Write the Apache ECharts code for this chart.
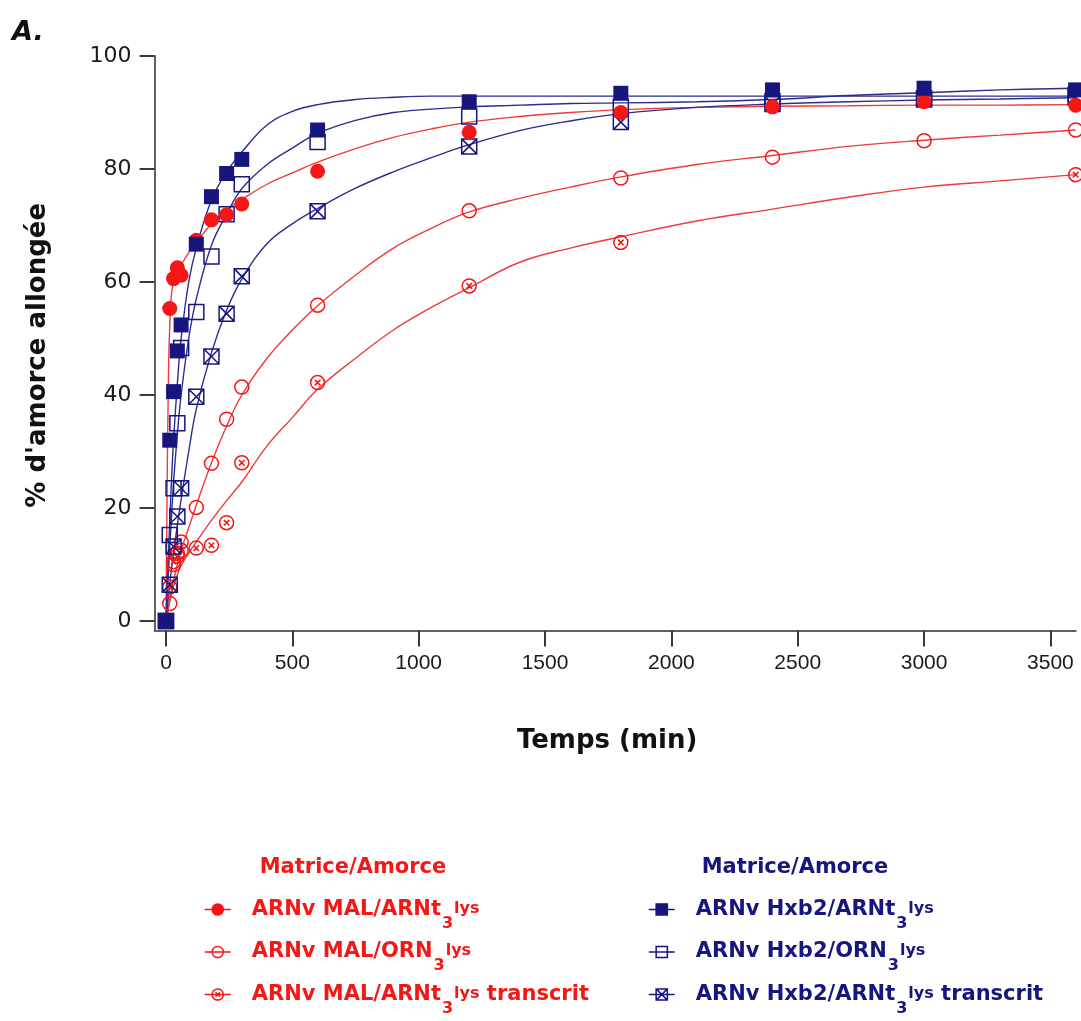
<!DOCTYPE html>
<html>
<head>
<meta charset="utf-8">
<script src="https://cdn.jsdelivr.net/npm/echarts@6/dist/echarts.min.js"></script>
<style>
  html, body { margin: 0; padding: 0; background: #ffffff; }
  #chart { width: 1081px; height: 1021px; }
</style>
</head>
<body>
<div id="chart"></div>
<script>
// Sampling times of the extension kinetics (min)
const times = [0, 15, 30, 45, 60, 120, 180, 240, 300, 600, 1200, 1800, 2400, 3000, 3600];

// Measured % of extended primer, MAL template
const malTrna      = [0, 55.3, 60.6, 62.5, 61.2, 67.4, 71.0, 71.9, 73.8, 79.6, 86.5, 90.0, 91.0, 91.9, 91.3];
const malOdn       = [0, 3.1, 10.0, 12.0, 14.0, 20.1, 27.9, 35.7, 41.4, 55.9, 72.6, 78.4, 82.1, 85.0, 86.9];
const malTranscrit = [0, 6.0, 10.5, 11.5, 12.5, 12.9, 13.4, 17.4, 28.0, 42.2, 59.3, 67.0, null, null, 79.0];

// Measured % of extended primer, Hxb2 template
const hxbTrna      = [0, 32.0, 40.6, 47.8, 52.4, 66.7, 75.1, 79.2, 81.7, 86.9, 91.9, 93.4, 94.0, 94.3, 94.0];
const hxbOdn       = [0, 15.2, 23.5, 35.0, 48.3, 54.7, 64.5, 72.0, 77.3, 84.8, 89.3, 91.0, 92.0, 92.5, 93.2];
const hxbTranscrit = [0, 6.4, 13.2, 18.5, 23.5, 39.7, 46.8, 54.4, 61.0, 72.5, 84.0, 88.3, 91.5, 92.3, 92.7];

// Fitted kinetic curves, sampled on a common time grid (min)
const curveTimes = [0, 10, 20, 30, 45, 60, 90, 120, 180, 240, 300, 400, 500, 600, 750, 900, 1050, 1200, 1400, 1600, 1800, 2100, 2400, 2700, 3000, 3300, 3600];
const fitMalTrna      = [0, 44, 57, 60, 61.8, 63, 65.2, 67, 70.3, 72.8, 74.6, 77.3, 79.3, 81.2, 83.6, 85.6, 87.1, 88.3, 89.3, 90, 90.5, 90.9, 91.1, 91.2, 91.3, 91.3, 91.4];
const fitMalOdn       = [0, 2.5, 5, 7.2, 10, 12.5, 16.5, 20.5, 28, 34.5, 40, 46.5, 51.5, 55.8, 61.2, 66, 69.5, 72.4, 74.8, 76.8, 78.6, 80.8, 82.4, 84, 85.1, 86, 86.9];
const fitMalTranscrit = [0, 2.3, 4.5, 6.2, 8.2, 9.8, 12, 14, 17.8, 21.3, 24.6, 31, 36, 41, 46.5, 51.5, 55.5, 59, 63.5, 66, 68, 70.8, 72.9, 75, 76.8, 77.9, 79];
const fitHxbTrna      = [0, 12, 23, 32, 42, 50, 60, 66, 74.5, 79.5, 83, 87.8, 90.2, 91.4, 92.3, 92.7, 92.9, 92.9, 92.9, 92.9, 92.9, 92.9, 92.9, 92.9, 92.9, 92.9, 92.9];
const fitHxbOdn       = [0, 9, 17, 24.5, 33, 40, 50, 57, 66.5, 72, 76.5, 80.8, 83.7, 86.3, 88.6, 90, 90.6, 91, 91.3, 91.6, 91.7, 91.9, 92.3, 93, 93.5, 94, 94.3];
const fitHxbTranscrit = [0, 4.5, 8.5, 12, 17, 21.5, 30, 37.5, 47.5, 55, 60.5, 66.8, 70.3, 73, 76.6, 79.5, 82, 84.3, 86.8, 88.5, 89.8, 90.9, 91.5, 91.9, 92.2, 92.4, 92.6];

// Axis tick labels
const xTicks = [0, 500, 1000, 1500, 2000, 2500, 3000, 3500];
const yTicks = [0, 20, 40, 60, 80, 100];

// Legend entries: [series name, label text, subscript, superscript, trailing text]
const malLegend = [
  ['MAL-ARNt', 'ARNv MAL/ARNt', '3', 'lys', ''],
  ['MAL-ORN', 'ARNv MAL/ORN', '3', 'lys', ''],
  ['MAL-ARNt-transcrit', 'ARNv MAL/ARNt', '3', 'lys', ' transcrit']
];
const hxbLegend = [
  ['Hxb2-ARNt', 'ARNv Hxb2/ARNt', '3', 'lys', ''],
  ['Hxb2-ORN', 'ARNv Hxb2/ORN', '3', 'lys', ''],
  ['Hxb2-ARNt-transcrit', 'ARNv Hxb2/ARNt', '3', 'lys', ' transcrit']
];
const legendTitle = 'Matrice/Amorce';

const RED = '#f51616';
const RED_LINE = '#ef3a3a';
const NAVY = '#16167e';
const NAVY_LINE = '#2c2c8e';
const FONT_BOLD = 'DejaVu Sans';

const SYM_CROSS_SQUARE = 'path://M0,0 L20,0 L20,20 L0,20 Z M0,0 L20,20 M20,0 L0,20';
const SYM_CROSS_CIRCLE = 'path://M20,10 A10,10 0 1,1 0,10 A10,10 0 1,1 20,10 Z M6,6 L14,14 M14,6 L6,14';

function pairs(xs, ys) {
  const out = [];
  xs.forEach((x, i) => { if (ys[i] !== null && ys[i] !== undefined) out.push([x, ys[i]]); });
  return out;
}

function fitSeries(name, values, color) {
  return {
    name: name,
    type: 'line',
    data: pairs(curveTimes, values),
    showSymbol: false,
    smooth: 0.4,
    lineStyle: { color: color, width: 1.4 },
    itemStyle: { color: color },
    silent: true,
    z: 2
  };
}

function markerSeries(name, values, color, symbol, filled, size) {
  return {
    name: name,
    type: 'line',
    data: pairs(times, values),
    symbol: symbol,
    symbolSize: size,
    showSymbol: true,
    clip: false,
    lineStyle: { color: color, opacity: 0, width: 1.5 },
    itemStyle: filled
      ? { color: color, borderColor: color, borderWidth: 0 }
      : { color: 'rgba(255,255,255,0)', borderColor: color, borderWidth: 1.5 },
    emphasis: { disabled: true },
    silent: true,
    z: 3
  };
}

function legendRich(color) {
  return {
    m: { fontFamily: FONT_BOLD, fontWeight: 'bold', fontSize: 21, color: color, lineHeight: 46, verticalAlign: 'middle' },
    s: { fontFamily: FONT_BOLD, fontWeight: 'bold', fontSize: 16, color: color, padding: [28, 1, 0, 1], verticalAlign: 'middle' },
    p: { fontFamily: FONT_BOLD, fontWeight: 'bold', fontSize: 16, color: color, padding: [0, 0, 2, 0], verticalAlign: 'middle' }
  };
}

function legendBlock(entries, color, left) {
  const labels = {};
  entries.forEach(e => {
    labels[e[0]] = '{m|' + e[1] + '}{s|' + e[2] + '}{p|' + e[3] + '}' + (e[4] ? '{m|' + e[4] + '}' : '');
  });
  return {
    data: entries.map(e => e[0]),
    orient: 'vertical',
    left: left,
    top: 899,
    padding: 0,
    itemWidth: 26,
    itemHeight: 14,
    itemGap: 10,
    selectedMode: false,
    formatter: name => labels[name],
    lineStyle: { width: 1.5, opacity: 1 },
    itemStyle: { borderWidth: 1.5 },
    textStyle: { color: color, padding: [0, 0, 0, 16], rich: legendRich(color) }
  };
}

const chart = echarts.init(document.getElementById('chart'), null, { renderer: 'canvas' });

chart.setOption({
  animation: false,
  backgroundColor: '#ffffff',
  grid: { left: 154.6, right: 5.3, top: 56, bottom: 390.4, containLabel: false },
  xAxis: {
    type: 'value',
    min: -45,
    max: 3600,
    name: 'Temps (min)',
    nameLocation: 'middle',
    nameGap: 98,
    nameTextStyle: { fontFamily: FONT_BOLD, fontWeight: 'bold', fontSize: 26, color: '#111', padding: [0, 16, 0, 0] },
    axisLine: { onZero: false, lineStyle: { color: '#606060', width: 2 } },
    axisTick: { customValues: xTicks, length: 16, lineStyle: { color: '#3a3a3a', width: 2 } },
    axisLabel: { customValues: xTicks, margin: 22, fontFamily: 'Liberation Sans', fontSize: 21, color: '#1a1a1a', formatter: v => String(v) },
    splitLine: { show: false }
  },
  yAxis: {
    type: 'value',
    min: -1.7,
    max: 100,
    name: "% d'amorce allongée",
    nameLocation: 'middle',
    nameRotate: 90,
    nameGap: 103,
    nameTextStyle: { fontFamily: FONT_BOLD, fontWeight: 'bold', fontSize: 26, color: '#111', padding: [0, 24, 0, 0] },
    axisLine: { onZero: false, lineStyle: { color: '#606060', width: 2 } },
    axisTick: { customValues: yTicks, length: 15, lineStyle: { color: '#3a3a3a', width: 2 } },
    axisLabel: { customValues: yTicks, margin: 23, fontFamily: 'DejaVu Sans', fontSize: 22, color: '#1a1a1a', formatter: v => String(v) },
    splitLine: { show: false }
  },
  legend: [
    legendBlock(malLegend, RED, 204),
    legendBlock(hxbLegend, NAVY, 648)
  ],
  graphic: [
    { type: 'text', left: 12, top: 19, style: { text: 'A.', fontFamily: FONT_BOLD, fontWeight: 'bold', fontStyle: 'italic', fontSize: 27, fill: '#111' } },
    { type: 'text', x: 353, y: 868, style: { text: legendTitle, fontFamily: FONT_BOLD, fontWeight: 'bold', fontSize: 21, fill: RED, align: 'center', verticalAlign: 'middle' } },
    { type: 'text', x: 795, y: 868, style: { text: legendTitle, fontFamily: FONT_BOLD, fontWeight: 'bold', fontSize: 21, fill: NAVY, align: 'center', verticalAlign: 'middle' } }
  ],
  series: [
    fitSeries('fit MAL-ARNt', fitMalTrna, RED_LINE),
    fitSeries('fit MAL-ORN', fitMalOdn, RED_LINE),
    fitSeries('fit MAL-ARNt-transcrit', fitMalTranscrit, RED_LINE),
    fitSeries('fit Hxb2-ARNt', fitHxbTrna, NAVY_LINE),
    fitSeries('fit Hxb2-ORN', fitHxbOdn, NAVY_LINE),
    fitSeries('fit Hxb2-ARNt-transcrit', fitHxbTranscrit, NAVY_LINE),
    markerSeries('MAL-ORN', malOdn, RED, 'circle', false, 14),
    markerSeries('MAL-ARNt-transcrit', malTranscrit, RED, SYM_CROSS_CIRCLE, false, 14),
    markerSeries('Hxb2-ARNt-transcrit', hxbTranscrit, NAVY, SYM_CROSS_SQUARE, false, 15),
    markerSeries('Hxb2-ORN', hxbOdn, NAVY, 'rect', false, 15),
    markerSeries('MAL-ARNt', malTrna, RED, 'circle', true, 15),
    markerSeries('Hxb2-ARNt', hxbTrna, NAVY, 'rect', true, 15)
  ]
});
</script>
</body>
</html>
